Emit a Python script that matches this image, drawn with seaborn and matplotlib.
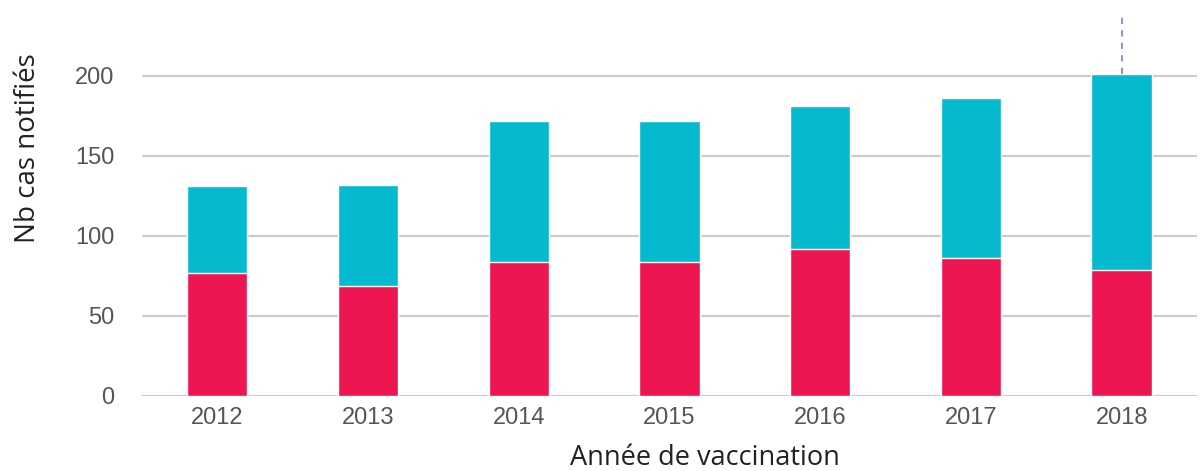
# Cas notifiés par année de vaccination - barres empilées
import numpy as np
import pandas as pd
import matplotlib
matplotlib.use("Agg")
import matplotlib.pyplot as plt
import seaborn as sns

# Données
annees = ["2012", "2013", "2014", "2015", "2016", "2017", "2018"]
cas_bas = [77, 69, 84, 84, 92, 86, 79]        # partie rouge
cas_haut = [54, 63, 88, 88, 89, 100, 122]     # partie cyan
yticks = [0, 50, 100, 150, 200]

ROUGE = "#EE1651"
CYAN = "#05BACF"
GRIS = "#cccccc"

sns.set_style("white")
plt.rcParams["font.family"] = ["Liberation Sans", "DejaVu Sans"]

df = pd.DataFrame({"annee": annees, "bas": cas_bas, "haut": cas_haut})
df["total"] = df["bas"] + df["haut"]

fig = plt.figure(figsize=(12, 4.71), dpi=100)
ax = fig.add_axes([142 / 1200, 75 / 471, 1055 / 1200, 384 / 471])

sns.barplot(data=df, x="annee", y="total", order=annees, color=CYAN,
            width=0.4, saturation=1, ax=ax)
sns.barplot(data=df, x="annee", y="bas", order=annees, color=ROUGE,
            width=0.4, saturation=1, ax=ax)

# ligne pointillée au-dessus de 2018
i18 = annees.index("2018")
ax.vlines(i18, df["total"].iloc[i18], 240, colors="#a48cc4",
          linestyles=(0, (3, 3)), linewidth=1.5, zorder=3)

ax.set_ylim(0, 240)
ax.set_xlim(-0.5, len(annees) - 0.5)
ax.set_yticks(yticks)
ax.yaxis.grid(True, color=GRIS, linewidth=1.6)
ax.set_axisbelow(True)
for s in ax.spines.values():
    s.set_visible(False)
ax.tick_params(axis="both", length=0, labelsize=17, labelcolor="#555555")
ax.tick_params(axis="y", pad=20)
ax.tick_params(axis="x", pad=8)
ax.set_xlabel("")
ax.set_ylabel("")

police = ["Open Sans", "DejaVu Sans"]
fig.text(705 / 1200, 1 - 465 / 471, "Année de vaccination", ha="center",
         va="baseline", fontsize=19.5, color="#222222", family=police)
fig.text(28 / 1200, 1 - 148 / 471, "Nb cas notifiés", ha="center", va="center",
         rotation=90, fontsize=20, color="#222222", family=police)

fig.savefig("out.png", dpi=100)
